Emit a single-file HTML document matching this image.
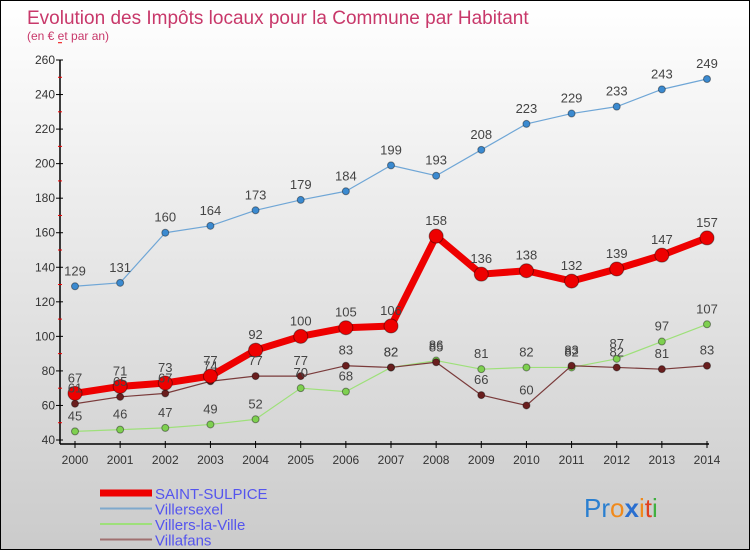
<!DOCTYPE html>
<html><head><meta charset="utf-8"><style>
html,body{margin:0;padding:0}
body{width:750px;height:550px;overflow:hidden;font-family:"Liberation Sans",sans-serif}
#wrap{position:relative;width:748px;height:548px;border:1px solid #000;background:linear-gradient(#fff,#e0e0e0 60%,#cbcbcb)}
</style></head><body>
<div id="wrap">
<svg id="chart" width="748" height="548">
<text x="26" y="23" font-size="19" fill="#c8386a">Evolution des Impôts locaux pour la Commune par Habitant</text>
<text x="26" y="39" font-size="12" fill="#c8386a">(en € et par an)</text>
</svg>
</div>
<script>
const years=[2000,2001,2002,2003,2004,2005,2006,2007,2008,2009,2010,2011,2012,2013,2014];
const yTicks=[40,60,80,100,120,140,160,180,200,220,240,260];
const saintSulpice=[67,71,73,77,92,100,105,106,158,136,138,132,139,147,157];
const villersexel=[129,131,160,164,173,179,184,199,193,208,223,229,233,243,249];
const villersLaVille=[45,46,47,49,52,70,68,82,86,81,82,82,87,97,107];
const villafans=[61,65,67,74,77,77,83,82,85,66,60,83,82,81,83];
const NS="http://www.w3.org/2000/svg";
const svg=document.getElementById('chart');
const x0=74,x1=706,yTop=59,yBot=439,vMin=40,vMax=260;
const xs=i=>x0+(x1-x0)*i/(years.length-1);
const ys=v=>yBot-(v-vMin)/(vMax-vMin)*(yBot-yTop);
function el(t,a){const e=document.createElementNS(NS,t);for(const k in a)e.setAttribute(k,a[k]);svg.appendChild(e);return e;}
let ax=el('line',{x1:59,y1:yTop,x2:59,y2:yBot+4,stroke:'#000','stroke-width':1.5});

let bx=el('line',{x1:59,y1:yBot+4,x2:x1+2,y2:yBot+4,stroke:'#000','stroke-width':1.5});

yTicks.forEach(v=>{
 const t=el('line',{x1:55,y1:ys(v),x2:62,y2:ys(v),stroke:'#000'});
 
 const m=el('line',{x1:57,y1:ys(v+10),x2:61,y2:ys(v+10),stroke:'#e00'});
 
 const l=el('text',{x:54,y:ys(v)+4,'font-size':12,fill:'#333','text-anchor':'end'});
 l.textContent=v;
});
years.forEach((yr,i)=>{
 const t=el('line',{x1:xs(i),y1:yBot+1,x2:xs(i),y2:yBot+8,stroke:'#000'});
 
 const l=el('text',{x:xs(i),y:yBot+24,'font-size':12,fill:'#333','text-anchor':'middle'});
 l.textContent=yr;
});
function series(data,color,dot,w,r,name){
 const p=el('polyline',{points:data.map((v,i)=>xs(i)+','+ys(v)).join(' '),fill:'none',stroke:color,'stroke-width':w,'stroke-linejoin':'round'});
 
 data.forEach((v,i)=>{
  const c=el('circle',{cx:xs(i),cy:ys(v),r:r,fill:dot,stroke:'rgba(0,0,0,0.4)','stroke-width':1});
  
 });
}
function labels(data,name){
 data.forEach((v,i)=>{
  const t=el('text',{x:xs(i),y:ys(v)-11,'font-size':13,fill:'#444','text-anchor':'middle'});
  t.textContent=v;
 });
}
series(villersexel,'#6fa6d6','#3b8ad0',1.2,3.5,'villersexel');
series(villersLaVille,'#9ee07a','#7ed050',1.2,3.5,'villers-la-ville');
series(villafans,'#7a3b3b','#6a1e1e',1.2,3.5,'villafans');
series(saintSulpice,'#ee0000','#ee0000',7,7,'saint-sulpice');
labels(villersexel,'villersexel');labels(villersLaVille,'villers-la-ville');labels(villafans,'villafans');labels(saintSulpice,'saint-sulpice');
const leg=[['SAINT-SULPICE','#ee0000',7],['Villersexel','#7fa9cc',2],['Villers-la-Ville','#9ee07a',2],['Villafans','#a07070',2]];
leg.forEach((d,i)=>{
 const y=492+i*15.5;
 const l=el('line',{x1:99,y1:y,x2:151,y2:y,stroke:d[1],'stroke-width':d[2]});
 
 const t=el('text',{x:154,y:y+6,'font-size':15,fill:'#5555ee'});
 t.textContent=d[0];
});
const lg=el('text',{x:583,y:516,'font-size':26});

lg.innerHTML='<tspan fill="#2a7fd0">Pr</tspan><tspan fill="#f08a1c">o</tspan><tspan fill="#2a6fd0" font-weight="bold">x</tspan><tspan fill="#f08a1c">i</tspan><tspan fill="#e04020">t</tspan><tspan fill="#40b040">i</tspan>';
</script>
</body></html>
